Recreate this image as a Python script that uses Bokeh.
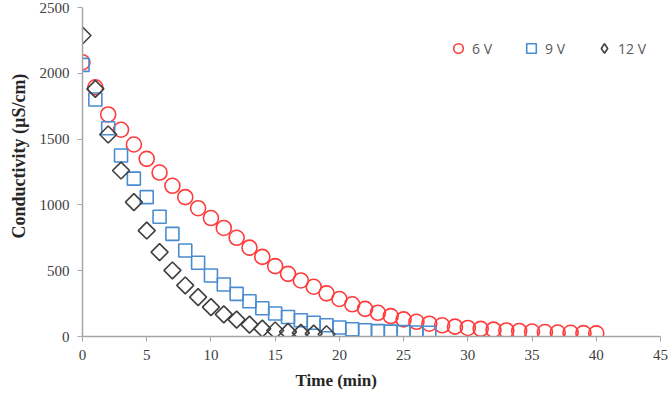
import math
from bokeh.plotting import figure
from bokeh.models import Legend, LegendItem, Range1d, FixedTicker, Title
from bokeh.embed import file_html
from bokeh.resources import INLINE

# Time (min)
t_6v = list(range(0, 41))
t_9v = list(range(0, 28))
t_12v = list(range(0, 20))

# Conductivity (uS/cm)
c_6v = [2084, 1894, 1687, 1571, 1459, 1350, 1246, 1145, 1059, 975,
        900, 825, 750, 675, 605, 535, 476, 426, 378, 328,
        285, 245, 210, 180, 155, 130, 112, 97, 85, 75,
        65, 58, 52, 46, 42, 38, 34, 30, 28, 26, 24]
c_9v = [2064, 1801, 1583, 1375, 1200, 1059, 910, 780, 654, 560,
        464, 395, 324, 268, 215, 175, 148, 124, 105, 86,
        68, 55, 47, 41, 37, 33, 30, 28]
c_12v = [2287, 1882, 1535, 1261, 1021, 805, 641, 502, 388, 299,
         223, 168, 128, 90, 60, 46, 35, 28, 22, 17]

series_names = ["6 V", "9 V", "12 V"]
x_ticks = [0, 5, 10, 15, 20, 25, 30, 35, 40, 45]
y_ticks = [0, 500, 1000, 1500, 2000, 2500]
x_title = "Time (min)"
y_title = "Conductivity (µS/cm)"

p = figure(width=672, height=396, output_backend="svg", toolbar_location=None,
           x_range=Range1d(0, 45), y_range=Range1d(0, 2500),
           min_border_left=82, min_border_right=12, min_border_top=7,
           min_border_bottom=60)
p.outline_line_color = None
p.xgrid.visible = False
p.ygrid.visible = False
p.background_fill_color = "white"
p.border_fill_color = "white"

r6 = p.scatter(t_6v, c_6v, marker="circle", size=15, fill_color=None,
               line_color="#FF3B3B", line_width=1.6)
r9 = p.scatter(t_9v, c_9v, marker="square", size=13, fill_color=None,
               line_color="#4A8CD0", line_width=1.6)
r12 = p.scatter(t_12v, c_12v, marker="square", angle=math.pi / 4, size=12,
                fill_color=None, line_color="#404040", line_width=1.6)
# legend key for the diamonds (hidden in the plot area)
r12_key = p.scatter(t_12v, c_12v, marker="diamond", size=14, fill_color=None,
                    line_color="#404040", line_width=1.6)
r12_key.visible = False

for ax in (p.xaxis[0], p.yaxis[0]):
    ax.axis_line_color = "#A6A6A6"
    ax.axis_line_width = 1.5
    ax.major_tick_line_color = "#A6A6A6"
    ax.major_tick_line_width = 1
    ax.minor_tick_line_color = None
    ax.major_tick_in = 0
    ax.major_tick_out = 5
    ax.major_label_text_font = "Liberation Serif"
    ax.major_label_text_font_size = "15px"
    ax.major_label_text_color = "#404040"

p.xaxis.ticker = FixedTicker(ticks=x_ticks)
p.yaxis.ticker = FixedTicker(ticks=y_ticks)
p.xaxis.major_label_standoff = 8
p.yaxis.major_label_standoff = 8

t_x = Title(text=x_title, align="left", offset=213, standoff=12,
            text_font="Liberation Serif", text_font_size="17px",
            text_font_style="bold", text_color="#262626")
t_y = Title(text=y_title, align="left", offset=98, standoff=12,
            vertical_align="top",
            text_font="Liberation Serif", text_font_size="18px",
            text_font_style="bold", text_color="#262626")
p.add_layout(t_x, "below")
p.add_layout(t_y, "left")

legend = Legend(items=[LegendItem(label=series_names[0], renderers=[r6]),
                       LegendItem(label=series_names[1], renderers=[r9]),
                       LegendItem(label=series_names[2], renderers=[r12_key])],
                orientation="horizontal", location=(364, 276))
legend.label_text_font = "Open Sans"
legend.label_text_font_size = "14px"
legend.label_text_color = "#595959"
legend.border_line_color = None
legend.background_fill_alpha = 0
legend.inactive_fill_alpha = 0
legend.glyph_width = 24
legend.glyph_height = 24
legend.label_standoff = 2
legend.spacing = 27
legend.padding = 0
legend.margin = 0
p.add_layout(legend, "center")

open("out.html", "w").write(file_html(p, INLINE))
